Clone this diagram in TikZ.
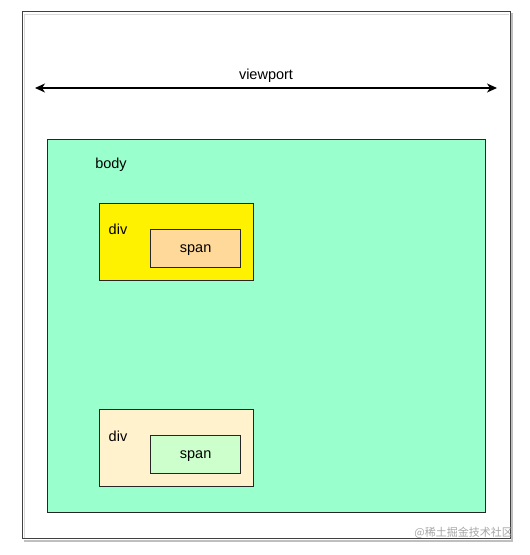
\documentclass[tikz,border=0pt]{standalone}
\usepackage{fontspec}
\setmainfont{Liberation Sans}
\newfontfamily\cjk{Noto Sans CJK SC}
\usetikzlibrary{arrows.meta}
\definecolor{bodyfill}{HTML}{99FFCC}
\definecolor{spanone}{HTML}{FFD999}
\definecolor{divtwo}{HTML}{FFF2CC}
\definecolor{spantwo}{HTML}{CCFFCC}
\tikzset{
  box/.style={draw=black!85, line width=1.2pt, anchor=north west, inner sep=0pt},
  lbl/.style={font=\fontsize{14.5}{17}\selectfont, inner sep=0pt, yshift=-1.5pt},
}
\begin{document}
\begin{tikzpicture}[x=1pt,y=-1pt]
\useasboundingbox[fill=white] (0,0) rectangle (530,555);
% outer frame with shadow
\draw[black!25, line width=1.5pt] (24,541) -- (512,541) -- (512,13);
\draw[black!15, line width=1pt] (24,538) -- (24,14) -- (509,14);
\node[box, draw=black!75, minimum width=488pt, minimum height=527pt] (frame) at (22,11) {};
% viewport arrow
\coordinate (vl) at (35,88);
\coordinate (vr) at (497,88);
\draw[line width=1.2pt, {Stealth[length=10pt,width=9pt,inset=3pt]}-{Stealth[length=10pt,width=9pt,inset=3pt]}] (vl) -- (vr);
\node[lbl] (vp) at (266,74) {viewport};
% body
\node[box, fill=bodyfill, minimum width=438pt, minimum height=373pt] (body) at (47,139) {};
\node[lbl] (bodyl) at (111,163) {body};
% div 1
\node[box, fill=yellow, minimum width=154pt, minimum height=77pt] (div1) at (99,203) {};
\node[lbl] (div1l) at (118,228) {div};
\node[box, fill=spanone, minimum width=90pt, minimum height=38pt] (span1) at (150,229) {};
\node[lbl] at (span1.center) (span1l) {span};
% div 2
\node[box, fill=divtwo, minimum width=154pt, minimum height=77pt] (div2) at (99,409) {};
\node[lbl] (div2l) at (118,435) {div};
\node[box, fill=spantwo, minimum width=90pt, minimum height=38pt] (span2) at (150,435) {};
\node[lbl] at (span2.center) (span2l) {span};
% watermark
\node[font=\cjk\fontsize{11}{13}\selectfont, text=black!35, inner sep=0pt, anchor=east] (wm) at (513,533) {@稀土掘金技术社区};
\end{tikzpicture}
\end{document}
